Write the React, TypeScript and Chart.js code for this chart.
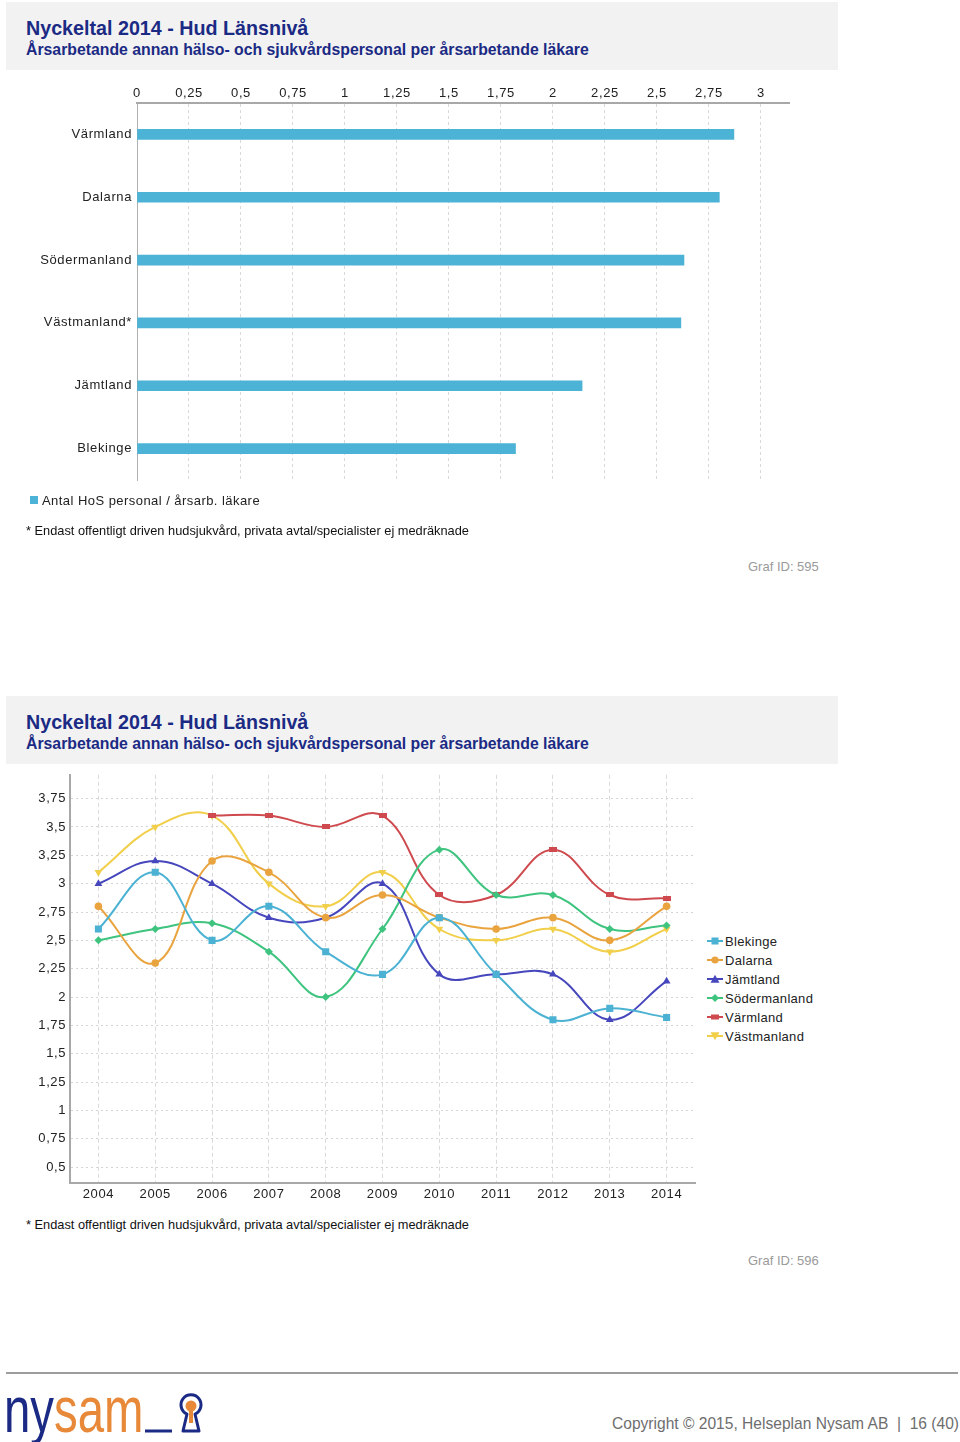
import React, { useEffect, useRef } from "react";
import { Chart, registerables } from "chart.js";

Chart.register(...registerables);

// ---------- data ----------
const BAR_REGIONS = ["Värmland", "Dalarna", "Södermanland", "Västmanland*", "Jämtland", "Blekinge"];
const BAR_VALUES = [2.87, 2.8, 2.63, 2.615, 2.14, 1.82];
const BAR_TICKS = [0, 0.25, 0.5, 0.75, 1, 1.25, 1.5, 1.75, 2, 2.25, 2.5, 2.75, 3];

const YEARS = ["2004", "2005", "2006", "2007", "2008", "2009", "2010", "2011", "2012", "2013", "2014"];
const LINE_TICKS = [0.5, 0.75, 1, 1.25, 1.5, 1.75, 2, 2.25, 2.5, 2.75, 3, 3.25, 3.5, 3.75];
const BLEKINGE = [2.6, 3.1, 2.5, 2.8, 2.4, 2.2, 2.7, 2.2, 1.8, 1.9, 1.82];
const DALARNA = [2.8, 2.3, 3.2, 3.1, 2.7, 2.9, 2.7, 2.6, 2.7, 2.5, 2.8];
const JAMTLAND = [3.0, 3.2, 3.0, 2.7, 2.7, 3.0, 2.2, 2.2, 2.2, 1.8, 2.14];
const SODERMANLAND = [2.5, 2.6, 2.65, 2.4, 2.0, 2.6, 3.3, 2.9, 2.9, 2.6, 2.63];
const VARMLAND = [null, null, 3.6, 3.6, 3.5, 3.6, 2.9, 2.9, 3.3, 2.9, 2.87];
const VASTMANLAND = [3.1, 3.5, 3.6, 3.0, 2.8, 3.1, 2.6, 2.5, 2.6, 2.4, 2.6];

const C_BLEKINGE = "#4bb2d3";
const C_DALARNA = "#e9a43f";
const C_JAMTLAND = "#4747bd";
const C_SODER = "#3ec47f";
const C_VARM = "#cf4a4f";
const C_VAST = "#f1cf4b";

const NAVY = "#1b2a84";
const FONT = "'Liberation Sans', Arial, Helvetica, sans-serif";

const fmt = (v: number) => String(v).replace(".", ",");

const spacingPlugin = {
  id: "letterSpacing",
  beforeDraw(chart: any) {
    (chart.ctx as any).letterSpacing = "0.6px";
  },
};

function flatRect(color: string) {
  const c = document.createElement("canvas");
  c.width = 8;
  c.height = 5;
  const x = c.getContext("2d")!;
  x.fillStyle = color;
  x.fillRect(0, 0, 8, 5);
  return c;
}

function BarChart() {
  const ref = useRef<HTMLCanvasElement>(null);
  useEffect(() => {
    const chart = new Chart(ref.current!, {
      type: "bar",
      data: {
        labels: BAR_REGIONS,
        datasets: [
          {
            label: "Antal HoS personal / årsarb. läkare",
            data: BAR_VALUES,
            backgroundColor: "#4db3d6",
            barThickness: 10,
          },
        ],
      },
      options: {
        indexAxis: "y",
        animation: false,
        responsive: false,
        layout: { padding: { left: 0, right: 51, top: 0, bottom: 15 } },
        plugins: { legend: { display: false }, tooltip: { enabled: false } },
        scales: {
          x: {
            position: "top",
            min: 0,
            max: 3.135,
            afterBuildTicks: (s: any) => {
              s.ticks = BAR_TICKS.map((v) => ({ value: v }));
            },
            afterFit: (s: any) => {
              s.height = 28;
            },
            ticks: {
              callback: (v: any) => fmt(v),
              color: "#222",
              font: { family: FONT, size: 13 },
              padding: 2,
              maxRotation: 0,
              autoSkip: false,
            },
            grid: { color: "#d9d9d9", drawTicks: false, lineWidth: 1 },
            border: { display: true, color: "#a8a8a8", width: 2, dash: [3, 3] },
          },
          y: {
            afterFit: (s: any) => {
              s.width = 137;
            },
            ticks: {
              color: "#222",
              font: { family: FONT, size: 13 },
              padding: 5,
            },
            grid: { display: false, drawTicks: false },
            border: { display: true, color: "#b0b0b0", width: 1 },
          },
        },
      },
      plugins: [spacingPlugin],
    } as any);
    return () => chart.destroy();
  }, []);
  return <canvas ref={ref} width={840} height={420} style={{ display: "block" }} />;
}

function LineChart() {
  const ref = useRef<HTMLCanvasElement>(null);
  useEffect(() => {
    const common = { borderWidth: 2, tension: 0.4, pointBorderWidth: 0, spanGaps: false };
    const chart = new Chart(ref.current!, {
      type: "line",
      data: {
        labels: YEARS,
        datasets: [
          { ...common, label: "Blekinge", data: BLEKINGE, borderColor: C_BLEKINGE, backgroundColor: C_BLEKINGE, pointStyle: "rect", pointRadius: 5 },
          { ...common, label: "Dalarna", data: DALARNA, borderColor: C_DALARNA, backgroundColor: C_DALARNA, pointStyle: "circle", pointRadius: 3.8 },
          { ...common, label: "Jämtland", data: JAMTLAND, borderColor: C_JAMTLAND, backgroundColor: C_JAMTLAND, pointStyle: "triangle", pointRadius: 4.5 },
          { ...common, label: "Södermanland", data: SODERMANLAND, borderColor: C_SODER, backgroundColor: C_SODER, pointStyle: "rectRot", pointRadius: 4 },
          { ...common, label: "Värmland", data: VARMLAND, borderColor: C_VARM, backgroundColor: C_VARM, pointStyle: flatRect(C_VARM), pointRadius: 4 },
          { ...common, label: "Västmanland", data: VASTMANLAND, borderColor: C_VAST, backgroundColor: C_VAST, pointStyle: "triangle", rotation: 180, pointRadius: 4.5 },
        ],
      },
      options: {
        animation: false,
        responsive: false,
        layout: { padding: { left: 0, right: 5, top: 0, bottom: 0 } },
        plugins: { legend: { display: false }, tooltip: { enabled: false } },
        scales: {
          x: {
            offset: true,
            afterFit: (s: any) => {
              s.height = 27;
            },
            ticks: {
              color: "#222",
              font: { family: FONT, size: 13 },
              padding: 4,
              maxRotation: 0,
              autoSkip: false,
            },
            grid: { offset: false, color: "#dadada", drawTicks: false },
            border: { display: true, color: "#a8a8a8", width: 2, dash: [4, 3] },
          },
          y: {
            min: 0.36,
            max: 3.96,
            afterBuildTicks: (s: any) => {
              s.ticks = LINE_TICKS.map((v) => ({ value: v }));
            },
            afterFit: (s: any) => {
              s.width = 70;
            },
            ticks: {
              callback: (v: any) => fmt(v),
              color: "#222",
              font: { family: FONT, size: 13 },
              padding: 4,
            },
            grid: { color: "#d4d4d4", drawTicks: false },
            border: { display: true, color: "#a8a8a8", width: 2, dash: [2, 3] },
          },
        },
      },
      plugins: [spacingPlugin],
    } as any);
    return () => chart.destroy();
  }, []);
  return <canvas ref={ref} width={700} height={447} style={{ display: "block" }} />;
}

function TitlePanel({ top }: { top: number }) {
  return (
    <div
      style={{
        position: "absolute",
        left: 6,
        top,
        width: 832,
        height: 68,
        background: "#f2f2f2",
        fontFamily: FONT,
        color: NAVY,
        fontWeight: "bold",
      }}
    >
      <div style={{ position: "absolute", left: 20, top: 14, fontSize: 19.7, lineHeight: "24px", whiteSpace: "nowrap" }}>
        Nyckeltal 2014 - Hud Länsnivå
      </div>
      <div style={{ position: "absolute", left: 20, top: 38, fontSize: 15.8, lineHeight: "20px", whiteSpace: "nowrap" }}>
        Årsarbetande annan hälso- och sjukvårdspersonal per årsarbetande läkare
      </div>
    </div>
  );
}

const textStyle = (left: number, top: number, size: number, color: string): React.CSSProperties => ({
  position: "absolute",
  left,
  top,
  fontSize: size,
  lineHeight: `${Math.round(size * 1.3)}px`,
  color,
  fontFamily: FONT,
  whiteSpace: "nowrap",
});

function Marker({ kind, color }: { kind: string; color: string }) {
  let m: React.ReactNode = null;
  if (kind === "rect") m = <rect x={4.5} y={1.5} width={7} height={7} fill={color} />;
  if (kind === "circle") m = <circle cx={8} cy={5} r={3.6} fill={color} />;
  if (kind === "tri") m = <polygon points="8,0.8 12.5,8.8 3.5,8.8" fill={color} />;
  if (kind === "diamond") m = <polygon points="8,1 12,5 8,9 4,5" fill={color} />;
  if (kind === "flat") m = <rect x={4} y={2.5} width={8} height={5} fill={color} />;
  if (kind === "tridown") m = <polygon points="3.5,1.2 12.5,1.2 8,9.2" fill={color} />;
  return (
    <svg width={16} height={10} style={{ position: "absolute", left: 0, top: 0 }}>
      <line x1={0} y1={5} x2={16} y2={5} stroke={color} strokeWidth={2} />
      {m}
    </svg>
  );
}

const LEGEND_ITEMS = [
  { name: "Blekinge", color: C_BLEKINGE, kind: "rect" },
  { name: "Dalarna", color: C_DALARNA, kind: "circle" },
  { name: "Jämtland", color: C_JAMTLAND, kind: "tri" },
  { name: "Södermanland", color: C_SODER, kind: "diamond" },
  { name: "Värmland", color: C_VARM, kind: "flat" },
  { name: "Västmanland", color: C_VAST, kind: "tridown" },
];

export default function App() {
  const foot = "* Endast offentligt driven hudsjukvård, privata avtal/specialister ej medräknade";
  return (
    <div style={{ position: "absolute", left: 0, top: 0, width: 960, height: 1442, background: "#fff", overflow: "hidden" }}>
      <TitlePanel top={2} />
      <div style={{ position: "absolute", left: 0, top: 75 }}>
        <BarChart />
      </div>
      <div style={{ position: "absolute", left: 30, top: 496, width: 8, height: 8, background: "#4db3d6" }} />
      <div style={{ ...textStyle(42, 492, 13, "#222"), letterSpacing: "0.45px" }}>Antal HoS personal / årsarb. läkare</div>
      <div style={textStyle(26, 522, 12.8, "#111")}>{foot}</div>
      <div style={textStyle(748, 558, 13, "#9a9a9a")}>Graf ID: 595</div>

      <TitlePanel top={696} />
      <div style={{ position: "absolute", left: 0, top: 763 }}>
        <LineChart />
      </div>
      {LEGEND_ITEMS.map((it, i) => (
        <div key={it.name} style={{ position: "absolute", left: 707, top: 936 + i * 19, height: 10 }}>
          <Marker kind={it.kind} color={it.color} />
          <div style={{ ...textStyle(18, -3, 13, "#222"), letterSpacing: "0.3px" }}>{it.name}</div>
        </div>
      ))}
      <div style={textStyle(26, 1216, 12.8, "#111")}>{foot}</div>
      <div style={textStyle(748, 1252, 13, "#9a9a9a")}>Graf ID: 596</div>

      <div style={{ position: "absolute", left: 6, top: 1372, width: 952, height: 2, background: "#9d9d9d" }} />
      <div
        style={{
          position: "absolute",
          left: 4,
          top: 1378,
          fontFamily: FONT,
          fontSize: 64,
          lineHeight: "64px",
          transform: "scaleX(0.74)",
          transformOrigin: "left top",
          whiteSpace: "nowrap",
        }}
      >
        <span style={{ color: NAVY }}>ny</span>
        <span style={{ color: "#e8893a" }}>sam</span>
      </div>
      <svg width={64} height={48} style={{ position: "absolute", left: 142, top: 1392 }}>
        <line x1={3} y1={39} x2={30} y2={39} stroke={NAVY} strokeWidth={3} />
        <path d="M41 39 L45 22 A10 10 0 1 1 53 22 L57 39 Z" fill="none" stroke={NAVY} strokeWidth={3} strokeLinejoin="round" />
        <circle cx={49} cy={14} r={5.5} fill="#e8893a" />
        <rect x={47} y={19} width={4} height={12} fill="#e8893a" />
      </svg>
      <div
        style={{
          ...textStyle(612, 1413, 17, "#6e6e6e"),
          transform: "scaleX(0.916)",
          transformOrigin: "left top",
        }}
      >
        Copyright © 2015, Helseplan Nysam AB &nbsp;|&nbsp; 16 (40)
      </div>
    </div>
  );
}
